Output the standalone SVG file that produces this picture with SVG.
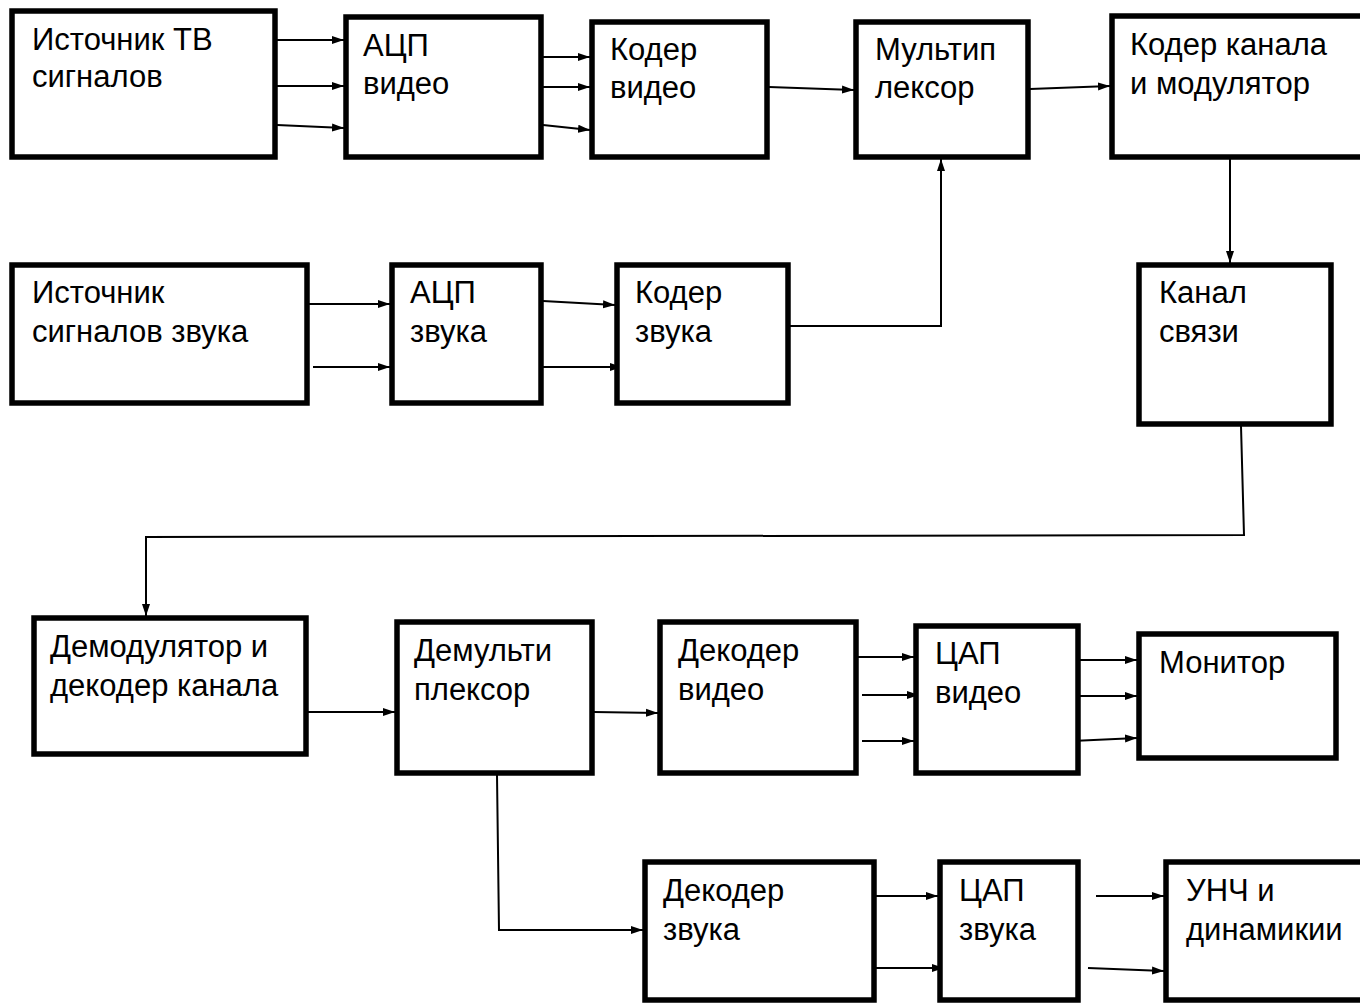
<svg xmlns="http://www.w3.org/2000/svg" width="1360" height="1003" viewBox="0 0 1360 1003">
<style>
.box{fill:#fff;stroke:#000;stroke-width:5.5}
.t{font-family:"Liberation Sans",Arial,sans-serif;font-size:31px;fill:#000}
.c{fill:none;stroke:#000;stroke-width:2}
.a{marker-end:url(#ah)}
</style>
<defs>
<marker id="ah" markerUnits="userSpaceOnUse" markerWidth="13" markerHeight="10" refX="12" refY="5" orient="auto">
<path d="M0,1 L12,5 L0,9 Z" fill="#000"/>
</marker>
</defs>
<rect width="1360" height="1003" fill="#fff"/>
<g id="connectors">
<line class="c a" x1="277" y1="40" x2="344" y2="40"/>
<line class="c a" x1="277" y1="86" x2="344" y2="86"/>
<line class="c a" x1="277" y1="125" x2="344" y2="128"/>
<line class="c a" x1="543" y1="57" x2="590" y2="57"/>
<line class="c a" x1="543" y1="87" x2="590" y2="87"/>
<line class="c a" x1="543" y1="125" x2="590" y2="130"/>
<line class="c a" x1="769" y1="87" x2="854" y2="90"/>
<line class="c a" x1="1030" y1="89" x2="1110" y2="86"/>
<line class="c a" x1="1230" y1="159" x2="1230" y2="263"/>
<polyline class="c a" points="790,326 941,326 941,159"/>
<line class="c a" x1="309" y1="304" x2="390" y2="304"/>
<line class="c a" x1="313" y1="367" x2="390" y2="367"/>
<line class="c a" x1="543" y1="301" x2="615" y2="305"/>
<line class="c a" x1="543" y1="367" x2="622" y2="367"/>
<polyline class="c a" points="1241,426 1244,535 146,537 146,616"/>
<line class="c a" x1="308" y1="712" x2="395" y2="712"/>
<line class="c a" x1="594" y1="712" x2="658" y2="713"/>
<line class="c a" x1="852" y1="657" x2="914" y2="657"/>
<line class="c a" x1="862" y1="695" x2="919" y2="695"/>
<line class="c a" x1="862" y1="741" x2="914" y2="741"/>
<line class="c a" x1="1080" y1="660" x2="1137" y2="660"/>
<line class="c a" x1="1080" y1="696" x2="1137" y2="696"/>
<line class="c a" x1="1072" y1="741" x2="1137" y2="738"/>
<polyline class="c a" points="497,775 499,930 643,930"/>
<line class="c a" x1="876" y1="896" x2="938" y2="896"/>
<line class="c a" x1="876" y1="968" x2="944" y2="968"/>
<line class="c a" x1="1096" y1="896" x2="1164" y2="896"/>
<line class="c a" x1="1088" y1="968" x2="1164" y2="971"/>
</g>
<g id="n1"><rect class="box" x="12" y="11" width="263" height="146"/><text class="t" x="32" y="50">Источник ТВ</text><text class="t" x="32" y="87">сигналов</text></g>
<g id="n2"><rect class="box" x="346" y="17" width="195" height="140"/><text class="t" x="363" y="56">АЦП</text><text class="t" x="363" y="94">видео</text></g>
<g id="n3"><rect class="box" x="592" y="22" width="175" height="135"/><text class="t" x="610" y="60">Кодер</text><text class="t" x="610" y="98">видео</text></g>
<g id="n4"><rect class="box" x="856" y="22" width="172" height="135"/><text class="t" x="875" y="60">Мультип</text><text class="t" x="875" y="98">лексор</text></g>
<g id="n5"><rect class="box" x="1112" y="16" width="260" height="141"/><text class="t" x="1130" y="55">Кодер канала</text><text class="t" x="1130" y="94">и модулятор</text></g>
<g id="n6"><rect class="box" x="12" y="265" width="295" height="138"/><text class="t" x="32" y="303">Источник</text><text class="t" x="32" y="342">сигналов звука</text></g>
<g id="n7"><rect class="box" x="392" y="265" width="149" height="138"/><text class="t" x="410" y="303">АЦП</text><text class="t" x="410" y="342">звука</text></g>
<g id="n8"><rect class="box" x="617" y="265" width="171" height="138"/><text class="t" x="635" y="303">Кодер</text><text class="t" x="635" y="342">звука</text></g>
<g id="n9"><rect class="box" x="1139" y="265" width="192" height="159"/><text class="t" x="1159" y="303">Канал</text><text class="t" x="1159" y="342">связи</text></g>
<g id="n10"><rect class="box" x="34" y="618" width="272" height="136"/><text class="t" x="50" y="657">Демодулятор и</text><text class="t" x="50" y="696">декодер канала</text></g>
<g id="n11"><rect class="box" x="397" y="622" width="195" height="151"/><text class="t" x="414" y="661">Демульти</text><text class="t" x="414" y="700">плексор</text></g>
<g id="n12"><rect class="box" x="660" y="622" width="196" height="151"/><text class="t" x="678" y="661">Декодер</text><text class="t" x="678" y="700">видео</text></g>
<g id="n13"><rect class="box" x="916" y="626" width="162" height="147"/><text class="t" x="935" y="664">ЦАП</text><text class="t" x="935" y="703">видео</text></g>
<g id="n14"><rect class="box" x="1139" y="634" width="197" height="124"/><text class="t" x="1159" y="673">Монитор</text></g>
<g id="n15"><rect class="box" x="645" y="862" width="229" height="138"/><text class="t" x="663" y="901">Декодер</text><text class="t" x="663" y="940">звука</text></g>
<g id="n16"><rect class="box" x="940" y="862" width="138" height="138"/><text class="t" x="959" y="901">ЦАП</text><text class="t" x="959" y="940">звука</text></g>
<g id="n17"><rect class="box" x="1166" y="862" width="206" height="138"/><text class="t" x="1186" y="901">УНЧ и</text><text class="t" x="1186" y="940">динамикии</text></g>
</svg>
